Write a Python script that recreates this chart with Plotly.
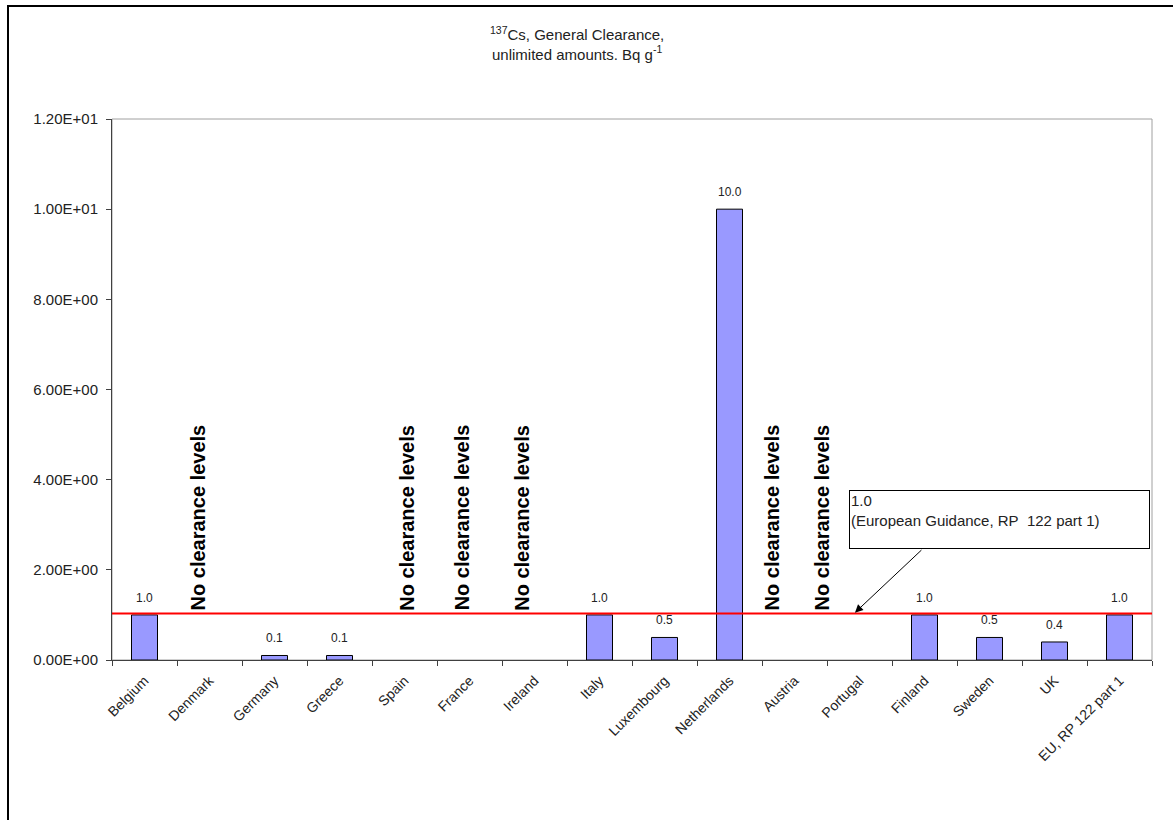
import plotly.graph_objects as go

countries = ["Belgium", "Denmark", "Germany", "Greece", "Spain", "France", "Ireland",
             "Italy", "Luxembourg", "Netherlands", "Austria", "Portugal", "Finland",
             "Sweden", "UK", "EU, RP 122 part 1"]
values = [1.0, None, 0.1, 0.1, None, None, None, 1.0, 0.5, 10.0, None, None, 1.0, 0.5, 0.4, 1.0]
ytick_vals = [0, 2, 4, 6, 8, 10, 12]
ytick_text = ["0.00E+00", "2.00E+00", "4.00E+00", "6.00E+00", "8.00E+00", "1.00E+01", "1.20E+01"]
guidance_level = 1.03
no_level_pos = [0.82, 4.04, 4.88, 5.81, 9.65, 10.42]

FONT = "Arial, 'Liberation Sans', sans-serif"

fig = go.Figure()
fig.add_trace(go.Bar(
    x=list(range(len(countries))), y=values, width=0.4,
    marker=dict(color="#9999FF", line=dict(color="#000000", width=1)),
    showlegend=False, hoverinfo="skip",
))

shapes = [
    dict(type="rect", xref="paper", yref="paper", x0=0, x1=1, y0=0, y1=1,
         line=dict(color="#A0A0A0", width=1), layer="below"),
    dict(type="line", xref="x", yref="y", x0=-0.5, x1=len(countries) - 0.5,
         y0=guidance_level, y1=guidance_level, line=dict(color="#FF0000", width=2)),
    dict(type="rect", xref="paper", yref="paper", x0=-0.1, x1=1.3, y0=-0.6, y1=1.209,
         line=dict(color="#000000", width=2)),
]

annotations = [
    dict(xref="paper", yref="paper", x=0.447, y=1.14, showarrow=False,
         xanchor="center", yanchor="middle",
         text="<sup>137</sup>Cs, General Clearance,<br>unlimited amounts. Bq g<sup>-1</sup>",
         font=dict(family=FONT, size=15, color="#222222"), align="center"),
]
for i, v in enumerate(values):
    if v is not None:
        annotations.append(dict(x=i, y=v, xref="x", yref="y", text="%.1f" % v,
                                showarrow=False, xanchor="center", yanchor="bottom", yshift=8,
                                font=dict(family=FONT, size=12, color="#222222")))
for p in no_level_pos:
    annotations.append(dict(x=p, y=1.05, xref="x", yref="y", text="<b>No clearance levels</b>",
                            textangle=-90, showarrow=False, yanchor="bottom", xanchor="center",
                            font=dict(family=FONT, size=20, color="#000000")))
annotations.append(dict(x=10.84, y=3.78, xref="x", yref="y", xanchor="left", yanchor="top",
                        text="1.0<br>(European Guidance, RP\u00a0 122 part 1)", showarrow=False,
                        align="left", valign="top", width=297, height=55,
                        bordercolor="#000000", borderwidth=1, borderpad=1, bgcolor="#FFFFFF",
                        font=dict(family=FONT, size=15, color="#222222")))
annotations.append(dict(x=10.93, y=1.05, xref="x", yref="y", text="", showarrow=True,
                        ax=68, ay=-64, arrowhead=2, arrowsize=1.6, arrowwidth=1,
                        arrowcolor="#000000"))

fig.update_layout(
    width=1173, height=820,
    margin=dict(l=112, r=21, t=119, b=160),
    paper_bgcolor="#FFFFFF", plot_bgcolor="#FFFFFF",
    shapes=shapes, annotations=annotations,
    font=dict(family=FONT),
    xaxis=dict(range=[-0.5, len(countries) - 0.5], tickmode="array",
               tickvals=list(range(len(countries))), ticktext=countries,
               tickangle=-45, showgrid=False, zeroline=False,
               showline=True, linecolor="#404040", linewidth=1,
               ticks="", ticklabelstandoff=6,
               tickfont=dict(family=FONT, size=14, color="#222222")),
    yaxis=dict(range=[0, 12], tickmode="array", tickvals=ytick_vals, ticktext=ytick_text,
               showgrid=False, zeroline=False, showline=True, linecolor="#404040", linewidth=1,
               ticks="outside", ticklen=5, tickcolor="#404040", ticklabelstandoff=5,
               tickfont=dict(family=FONT, size=15, color="#222222")),
)

fig.update_xaxes(minor=dict(tickmode="array", tickvals=[i - 0.5 for i in range(len(countries) + 1)],
                            ticks="outside", ticklen=5, tickcolor="#404040", showgrid=False))

fig.write_html("out.html")
